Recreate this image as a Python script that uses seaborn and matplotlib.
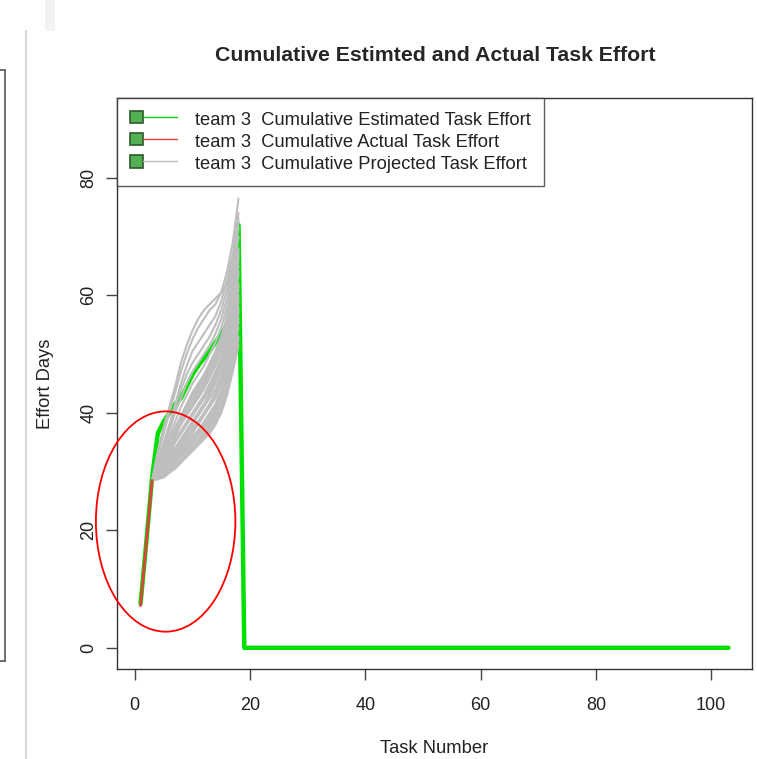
import pandas as pd
import seaborn as sns
import matplotlib.pyplot as plt
from matplotlib.patches import Rectangle, Ellipse
from matplotlib.lines import Line2D

# data
task_est = list(range(1, 104))
est_effort = [7.5, 18, 29, 36.5, 38.5, 40, 41.5, 42.5, 44.5, 46.5, 48, 49.3,
              50.5, 52, 53.5, 55, 57, 72] + [0.0] * 85

task_act = [1, 2, 3]
act_effort = [7.2, 17.8, 28.5]

task_proj = list(range(3, 19))
proj_runs = [
    [28.5, 33, 36.5, 40, 43.5, 47, 50, 52.5, 54.5, 56, 57.5, 58.5, 60.5, 64, 69, 76.5],
    [28.5, 33.5, 37.5, 41, 44.5, 48.5, 51.5, 54, 56, 57.5, 58.5, 59.5, 60.5, 62, 66, 73],
    [28.5, 32, 35, 38, 41.5, 45, 48, 50.5, 52, 53.5, 55, 56.5, 59, 62.5, 67, 74],
    [28.5, 31.5, 34.5, 37.5, 41, 44, 46.5, 48.5, 50, 51.5, 53, 55, 57.5, 61, 65.5, 72.5],
    [28.5, 31.5, 34, 37, 40, 42.5, 45, 47, 48.5, 50, 51.5, 53.5, 56, 59.5, 64.5, 71.5],
    [28.5, 31, 33.5, 36, 38.5, 41, 43, 45, 46.5, 48, 50, 52, 54.5, 58, 63, 70],
    [28.5, 30.5, 33, 35.5, 37.5, 39.5, 41.5, 43.5, 45, 46.5, 48.5, 50.5, 53, 56.5, 61.5, 68],
    [28.5, 30.5, 32.5, 35, 37, 39, 41, 43, 44.5, 46, 48, 50, 52.5, 56, 61, 67.5],
    [28.5, 31, 33, 35, 37, 39, 41, 42.5, 44, 45.5, 47.5, 49.5, 52, 55.5, 60.5, 67],
    [28.5, 30.5, 32.5, 34.5, 36.5, 38.5, 40.5, 42, 43.5, 45, 47, 49, 51.5, 55, 60, 66.5],
    [28.5, 30, 32, 34.5, 36.5, 38.5, 40, 41.5, 43, 44.5, 46.5, 48.5, 51, 54.5, 59, 66],
    [28.5, 30, 32, 34, 36, 38, 39.5, 41, 42.5, 44, 46, 48, 50.5, 54, 58.5, 65],
    [28.5, 30, 31.5, 33, 35, 36.5, 38, 39.5, 41, 42.5, 44.5, 46.5, 49, 52.5, 57, 64],
    [28.5, 30, 31.5, 33.5, 35.5, 37, 38.5, 40, 41.5, 43, 45, 47, 49.5, 53, 57.5, 63.5],
    [28.5, 29.5, 31, 33, 35, 36.5, 38, 39.5, 41, 42.5, 44, 46, 48.5, 52, 56.5, 62],
    [28.5, 29.5, 30.5, 32.5, 34, 35.5, 37, 38.5, 40, 41.5, 43.5, 45.5, 48, 51.5, 56, 61.5],
    [28.5, 29.5, 31, 32.5, 34, 35.5, 37, 38.5, 40, 41.5, 43, 45, 47.5, 51, 55.5, 61],
    [28.5, 29.5, 30.5, 32, 33.5, 35, 36.5, 38, 39.5, 41, 42.5, 44, 46.5, 50, 54.5, 60],
    [28.5, 29.2, 30.2, 31.5, 33, 34.5, 36, 37, 38.5, 40, 41.5, 43, 45.5, 49, 53.5, 59.5],
    [28.5, 29, 30.5, 32, 33, 34.5, 36, 37.5, 38.5, 40, 41.5, 43.5, 45.5, 49, 53.5, 59],
    [28.5, 29, 30, 31.5, 33, 34, 35.5, 36.5, 38, 39.5, 41, 42.5, 45, 48, 52.5, 58],
    [28.5, 29, 30, 31, 32, 33.5, 34.5, 35.5, 37, 38, 39.5, 41, 43.5, 46.5, 51, 57.5],
    [28.5, 29, 30, 31, 32.5, 33.5, 35, 36, 37, 38.5, 40, 41.5, 44, 47, 51.5, 57],
    [28.5, 29, 29.5, 30.5, 32, 33, 34, 35.5, 36.5, 37.5, 39, 40.5, 43, 46, 50.5, 56],
    [28.5, 29, 29.5, 30.5, 31.5, 33, 34, 35, 36, 37, 38.5, 40, 42.5, 45.5, 50, 55.5],
    [28.5, 28.8, 29.5, 30.5, 31.5, 32.5, 33.5, 34.5, 35.5, 36.5, 38, 39.5, 42, 45, 49.5, 54.5],
    [28.5, 28.8, 29.2, 30, 31, 32, 33, 34, 35, 36, 37.5, 39, 41, 44, 48.5, 53],
    [28.5, 28.8, 29.5, 30.2, 31, 32, 33, 34, 35, 36, 37, 38.5, 40.5, 43.5, 48, 52.5],
    [28.5, 28.7, 29, 29.8, 30.5, 31.5, 32.5, 33.5, 34.5, 35.5, 36.5, 38, 40, 43, 47, 51.5],
]

legend_labels = ['team 3  Cumulative Estimated Task Effort',
                 'team 3  Cumulative Actual Task Effort',
                 'team 3  Cumulative Projected Task Effort']

proj = pd.DataFrame({
    'task': [t for run in proj_runs for t in task_proj],
    'effort': [v for run in proj_runs for v in run],
    'run': [i for i, run in enumerate(proj_runs) for t in task_proj],
})

sns.set_style('white')
plt.rcParams['font.family'] = ['Liberation Sans', 'DejaVu Sans']

fig = plt.figure(figsize=(7.57, 7.59), dpi=100)
ax = fig.add_axes([0.1546, 0.1186, 0.8388, 0.7523])

sns.lineplot(x=task_est, y=est_effort, color='#00e000', linewidth=3.2, ax=ax)
sns.lineplot(data=proj, x='task', y='effort', units='run', estimator=None,
             color='#bebebe', linewidth=1.5, ax=ax)
sns.lineplot(x=task_act, y=act_effort, color='#e04040', linewidth=2.0, ax=ax)

ax.set_xlim(-3.08, 107.08)
ax.set_ylim(-3.6, 93.6)
ax.set_xticks([0, 20, 40, 60, 80, 100])
ax.set_yticks([0, 20, 40, 60, 80])
ax.tick_params(axis='both', bottom=True, left=True, direction='out', length=8,
               width=1, color='#444444', labelsize=13, labelcolor='#222222', pad=6)
ax.tick_params(axis='x', pad=12)
for lab in ax.get_yticklabels():
    lab.set_rotation(90)
    lab.set_va('center')
for sp in ax.spines.values():
    sp.set_visible(True)
    sp.set_color('#333333')
    sp.set_linewidth(1)

ax.set_xlabel('Task Number', fontsize=13.2, color='#222222', labelpad=19)
ax.set_ylabel('Effort Days', fontsize=13.2, color='#222222', labelpad=19)
fig.text(0.575, 0.927, 'Cumulative Estimted and Actual Task Effort',
         ha='center', va='center', fontsize=15.3, fontweight='bold')


class BoxLine:
    def legend_artist(self, legend, orig_handle, fontsize, handlebox):
        x0, y0 = handlebox.xdescent, handlebox.ydescent
        w, h = handlebox.width, handlebox.height
        sq = h * 0.9
        rect = Rectangle((x0, y0 + (h - sq) / 2), sq, sq, facecolor='#55b055',
                         edgecolor='#2a5a2a', lw=1.2, transform=handlebox.get_transform())
        line = Line2D([x0 + sq, x0 + w], [y0 + h / 2] * 2, color=orig_handle.get_color(),
                      lw=1, transform=handlebox.get_transform())
        handlebox.add_artist(rect)
        handlebox.add_artist(line)
        return rect


handles = [Line2D([], [], color='#00d000'), Line2D([], [], color='#e04040'),
           Line2D([], [], color='#bebebe')]
leg = ax.legend(handles, legend_labels, loc='upper left', borderaxespad=0,
                fontsize=13.2, frameon=True, fancybox=False, handlelength=2.56,
                handleheight=0.8, handletextpad=1.0, labelspacing=0.26,
                borderpad=0.72, handler_map={Line2D: BoxLine()})
leg.get_frame().set_edgecolor('#333333')
leg.get_frame().set_linewidth(1)
for t in leg.get_texts():
    t.set_color('#222222')

# red annotation ellipse drawn over the screenshot
ax.add_patch(Ellipse((5.35, 21.5), 24.2, 37.5, fill=False, edgecolor='red',
                     linewidth=1.3, clip_on=False, zorder=10))

# screenshot leftovers at the left edge
fig.add_artist(Line2D([5 / 757, 5 / 757], [1 - 70 / 759, 1 - 661 / 759],
                      color='#555555', lw=1.2))
fig.add_artist(Line2D([0, 5 / 757], [1 - 70 / 759] * 2, color='#555555', lw=1.2))
fig.add_artist(Line2D([0, 5 / 757], [1 - 661 / 759] * 2, color='#555555', lw=1.2))
fig.add_artist(Line2D([26 / 757, 26 / 757], [0, 1 - 31 / 759], color='#d8d8d8', lw=1.5))
fig.add_artist(Rectangle((45 / 757, 1 - 31 / 759), 10 / 757, 31 / 759,
                         facecolor='#f2f2f2', edgecolor='none'))

fig.savefig('out.png', dpi=100)
